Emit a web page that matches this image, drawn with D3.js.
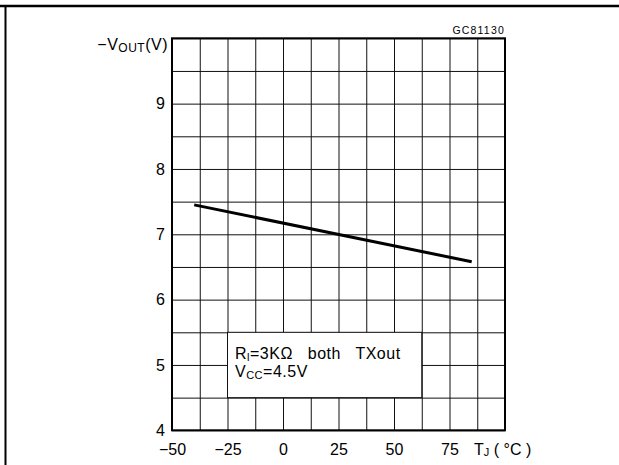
<!DOCTYPE html>
<html>
<head>
<meta charset="utf-8">
<script src="https://cdn.jsdelivr.net/npm/d3@7"></script>
<style>
  body { margin: 0; background: #fff; }
  svg { display: block; }
  text { font-family: "Liberation Sans", Arial, sans-serif; fill: #000; }
</style>
</head>
<body>
<script>
var width = 619,
    height = 465;

// chart values
var xTicks = [-50, -25, 0, 25, 50, 75];
var yTicks = [4, 5, 6, 7, 8, 9];
var xGrid = d3.range(-50, 100.1, 12.5);
var yGrid = d3.range(4, 10.01, 0.5);
var tempC = [-40, 85];
var vout = [7.45, 6.58];

var x = d3.scaleLinear().domain([-50, 100]).range([172, 505]);
var y = d3.scaleLinear().domain([4, 10]).range([430.3, 38.3]);

var svg = d3.select("body").append("svg")
    .attr("width", width)
    .attr("height", height);

// page frame
svg.append("line").attr("x1", 0).attr("x2", width).attr("y1", 6).attr("y2", 6)
    .attr("stroke", "#000").attr("stroke-width", 2.5);
svg.append("line").attr("x1", 5.5).attr("x2", 5.5).attr("y1", 6).attr("y2", height)
    .attr("stroke", "#000").attr("stroke-width", 2);

// grid
svg.append("g")
    .attr("transform", "translate(0," + y(4) + ")")
    .call(d3.axisBottom(x).tickValues(xGrid).tickSize(y(10) - y(4)).tickFormat(""))
    .call(g => g.select(".domain").remove())
    .selectAll("line").attr("stroke", "#111");
svg.append("g")
    .attr("transform", "translate(" + x(-50) + ",0)")
    .call(d3.axisLeft(y).tickValues(yGrid).tickSize(x(-50) - x(100)).tickFormat(""))
    .call(g => g.select(".domain").remove())
    .selectAll("line").attr("stroke", "#111");

// legend box hides grid
svg.append("rect")
    .attr("x", x(-25)).attr("y", y(5.5))
    .attr("width", x(62.5) - x(-25)).attr("height", y(4.5) - y(5.5))
    .attr("fill", "#fff").attr("stroke", "#111").attr("stroke-width", 1);

// plot border
svg.append("rect")
    .attr("x", x(-50)).attr("y", y(10))
    .attr("width", x(100) - x(-50)).attr("height", y(4) - y(10))
    .attr("fill", "none").attr("stroke", "#000").attr("stroke-width", 2);

// axes labels
var fmt = d => d < 0 ? "\u2212" + Math.abs(d) : "" + d;
svg.append("g")
    .attr("transform", "translate(0," + y(4) + ")")
    .call(d3.axisBottom(x).tickValues(xTicks).tickSize(0).tickFormat(fmt))
    .call(g => g.select(".domain").remove())
    .selectAll("text")
    .attr("y", 25).attr("dy", 0)
    .style("font-size", "16px").style("font-family", "Liberation Sans, Arial, sans-serif");
svg.append("g")
    .attr("transform", "translate(" + x(-50) + ",0)")
    .call(d3.axisLeft(y).tickValues(yTicks).tickSize(0).tickPadding(7).tickFormat(d3.format("d")))
    .call(g => g.select(".domain").remove())
    .selectAll("text")
    .style("font-size", "16px").style("font-family", "Liberation Sans, Arial, sans-serif");

var yl = svg.append("text").attr("x", 168).attr("y", 50)
    .attr("text-anchor", "end").style("font-size", "16px").style("letter-spacing", "0.5px");
yl.append("tspan").text("\u2212V");
yl.append("tspan").attr("dy", 2).style("font-size", "12px").text("OUT");
yl.append("tspan").attr("dy", -2).text("(V)");

var xl = svg.append("text").attr("x", 474).attr("y", 455)
    .attr("xml:space", "preserve").style("font-size", "16px");
xl.append("tspan").text("T");
xl.append("tspan").attr("dy", 1).style("font-size", "11px").text("J");
xl.append("tspan").attr("dy", -1).text(" ( \u00b0C )");

svg.append("text").attr("x", 505).attr("y", 34)
    .attr("text-anchor", "end")
    .style("font-size", "10.5px").style("letter-spacing", "1.2px")
    .text("GC81130");

// legend text
var l1 = svg.append("text").attr("x", 235).attr("y", 359)
    .attr("xml:space", "preserve")
    .style("font-size", "16px").style("letter-spacing", "0.5px");
l1.append("tspan").text("R");
l1.append("tspan").attr("dy", 2).style("font-size", "11px").text("l");
l1.append("tspan").attr("dy", -2).text("=3K\u03a9   both   TXout");
var l2 = svg.append("text").attr("x", 235).attr("y", 377)
    .style("font-size", "16px").style("letter-spacing", "0.5px");
l2.append("tspan").text("V");
l2.append("tspan").attr("dy", 2).style("font-size", "11px").text("CC");
l2.append("tspan").attr("dy", -2).text("=4.5V");

// curve
var line = d3.line().x(d => x(d[0])).y(d => y(d[1]));
svg.append("path")
    .datum(d3.zip(tempC, vout))
    .attr("d", line)
    .attr("fill", "none")
    .attr("stroke", "#000")
    .attr("stroke-width", 3);
</script>
</body>
</html>
